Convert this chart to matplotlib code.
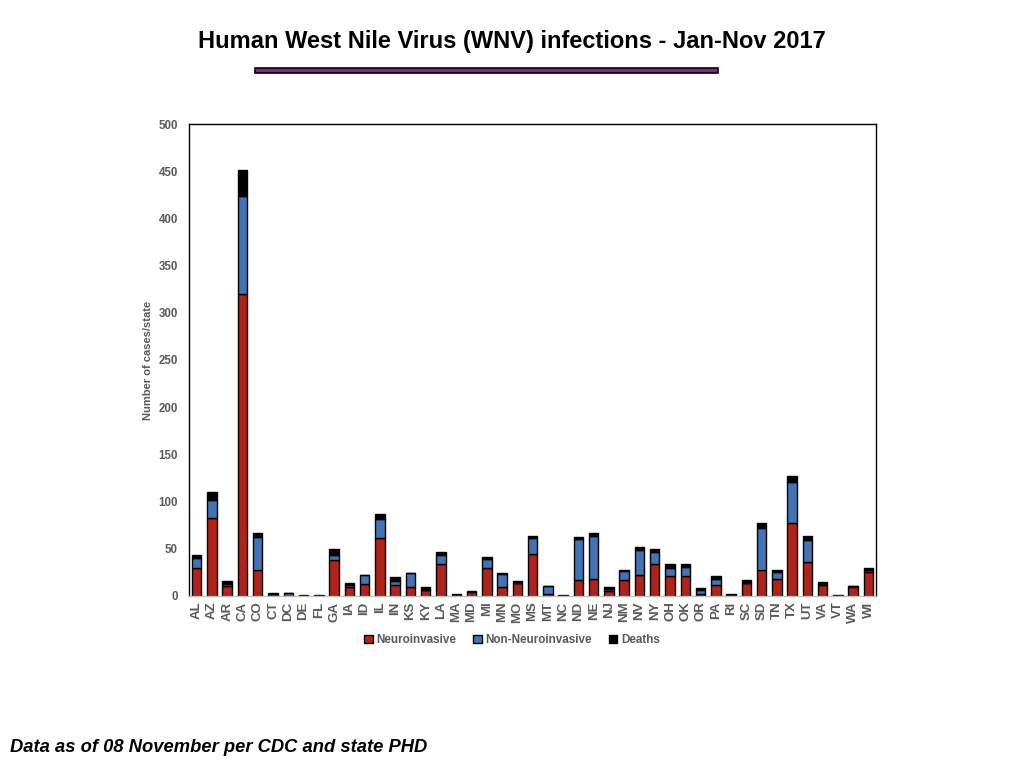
import matplotlib
matplotlib.use('Agg')
import matplotlib.pyplot as plt
import numpy as np
from matplotlib.patches import Rectangle

plt.rcParams['font.family'] = ['Liberation Sans', 'DejaVu Sans']

# values
states = ['AL', 'AZ', 'AR', 'CA', 'CO', 'CT', 'DC', 'DE', 'FL', 'GA', 'IA', 'ID',
          'IL', 'IN', 'KS', 'KY', 'LA', 'MA', 'MD', 'MI', 'MN', 'MO', 'MS', 'MT',
          'NC', 'ND', 'NE', 'NJ', 'NM', 'NV', 'NY', 'OH', 'OK', 'OR', 'PA', 'RI',
          'SC', 'SD', 'TN', 'TX', 'UT', 'VA', 'VT', 'WA', 'WI']
neuro = [30, 83, 11, 320, 27, 2, 0, 0, 0, 38, 10, 13,
         61, 12, 9, 6, 34, 1, 4, 30, 9, 14, 44, 2,
         0, 17, 18, 5, 17, 22, 34, 21, 21, 2, 12, 0,
         14, 27, 18, 77, 36, 12, 0, 9, 25]
non_neuro = [10, 19, 2, 104, 36, 0, 3, 0, 0, 5, 2, 9,
             21, 4, 15, 0, 9, 0, 0, 9, 14, 0, 17, 9,
             0, 43, 46, 2, 9, 27, 13, 9, 10, 4, 6, 0,
             0, 45, 7, 44, 23, 0, 0, 2, 3]
deaths = [3, 8, 3, 27, 4, 1, 0, 1, 1, 7, 2, 0,
          5, 4, 0, 3, 4, 1, 1, 2, 1, 2, 3, 0,
          1, 3, 3, 2, 2, 3, 3, 4, 3, 2, 3, 2,
          3, 5, 2, 6, 5, 3, 1, 0, 2]

RED = '#B0231A'
BLUE = '#4273B5'
GRAY = '#595959'

fig = plt.figure(figsize=(10.24, 7.68), dpi=100)
ax = fig.add_axes([0.1846, 0.224, 0.671, 0.6145])

x = np.arange(len(states))
w = 0.62
neuro = np.array(neuro)
non_neuro = np.array(non_neuro)
deaths = np.array(deaths)
ax.bar(x, neuro, w, color=RED, edgecolor='black', lw=1.0, label='Neuroinvasive')
ax.bar(x, non_neuro, w, bottom=neuro, color=BLUE, edgecolor='black', lw=1.0,
       label='Non-Neuroinvasive')
ax.bar(x, deaths, w, bottom=neuro + non_neuro, color='black', edgecolor='black',
       lw=1.0, label='Deaths')

ax.set_xlim(-0.5, len(states) - 0.5)
ax.set_ylim(0, 500)
ax.set_yticks(range(0, 501, 50))
ax.set_xticks(x)
ax.set_xticklabels(states, rotation=90, fontsize=9.5, fontweight='bold', color=GRAY)
for lab in ax.get_yticklabels():
    lab.set_fontsize(8.3)
    lab.set_fontweight('bold')
    lab.set_color(GRAY)
ax.tick_params(axis='both', length=0, pad=8)
ax.tick_params(axis='x', pad=4)
for s in ax.spines.values():
    s.set_linewidth(1.0)
ax.spines['bottom'].set_color('#BFBFBF')
ax.set_ylabel('Number of cases/state', fontsize=8, fontweight='bold', color=GRAY,
              labelpad=4)

leg = fig.legend(loc='center', bbox_to_anchor=(0.5, 0.1667), ncol=3, frameon=False,
                 fontsize=8.4, handlelength=0.7, handleheight=0.7, handletextpad=0.3,
                 columnspacing=1.5)
for t in leg.get_texts():
    t.set_fontweight('bold')
    t.set_color(GRAY)

fig.text(0.5, 0.946, 'Human West Nile Virus (WNV) infections - Jan-Nov 2017',
         ha='center', va='center', fontsize=17, fontweight='bold')
fig.patches.append(Rectangle((255 / 1024, 1 - 73 / 768), 463 / 1024, 5 / 768,
                             transform=fig.transFigure, facecolor='#7E2A80',
                             edgecolor='black', lw=1.2))
fig.text(0.0098, 1 - 748 / 768, 'Data as of 08 November per CDC and state PHD',
         ha='left', va='center', fontsize=13.2, fontweight='bold', style='italic')

fig.savefig('out.png', dpi=100)
